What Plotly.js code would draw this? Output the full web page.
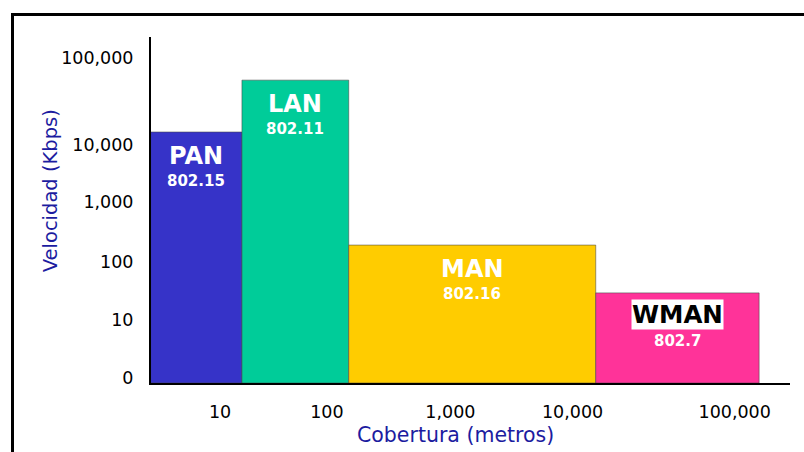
<!DOCTYPE html>
<html>
<head>
<meta charset="utf-8">
<script src="https://cdn.plot.ly/plotly-3.0.1.min.js"></script>
<style>
  html, body { margin: 0; padding: 0; background: #ffffff; }
  #wrap { position: relative; width: 804px; height: 452px; overflow: hidden; }
  #chart { width: 804px; height: 452px; }
  #frame { position: absolute; left: 11px; top: 13px; width: 800px; height: 460px;
           border-top: 3px solid #000; border-left: 3px solid #000; pointer-events: none; }
</style>
</head>
<body>
<div id="wrap">
  <div id="chart"></div>
  <div id="frame"></div>
</div>
<script>
// Network types (schematic chart: axes are "decade" positions, not true log scale)
const networks   = ["PAN", "LAN", "MAN", "WMAN"];
const standards  = ["802.15", "802.11", "802.16", "802.7"];
const barColors  = ["#3633c8", "#00cc99", "#ffcc00", "#ff3399"];

// Coverage extent of each block (schematic decade positions on the x axis)
const coverageStart = [0.46, 1.17, 2.00, 3.92];
const coverageEnd   = [1.17, 2.00, 3.92, 5.19];

// Speed reached by each block (schematic decade positions on the y axis)
const speedLevel = [4.22, 5.11, 2.28, 1.46];

// Axis ticks
const yTickPos    = [0, 1, 2, 3.02, 4, 5.5];
const yTickLabels = ["0", "10", "100", "1,000", "10,000", "100,000"];
const xTickPos    = [1, 1.83, 2.79, 3.74, 5];
const xTickLabels = ["10", "100", "1,000", "10,000", "100,000"];

const xTitle = "Cobertura (metros)";
const yTitle = "Velocidad (Kbps)";

const yMin = -0.086, yMax = 5.85;
const xMin = 0.463, xMax = 5.43;

const FONT = "DejaVu Sans, Verdana, sans-serif";
const TITLE_COLOR = "#1c1ca0";

const xCenter = coverageStart.map((s, i) => (s + coverageEnd[i]) / 2);
const widths  = coverageStart.map((s, i) => coverageEnd[i] - s);

const trace = {
  type: "bar",
  x: xCenter,
  y: speedLevel.map(v => v - yMin),
  base: speedLevel.map(() => yMin),
  width: widths,
  marker: { color: barColors, line: { color: "rgba(70,70,70,0.55)", width: 1 } },
  hoverinfo: "skip",
  showlegend: false
};

const annotations = [];
networks.forEach((n, i) => {
  const isW = n === "WMAN";
  annotations.push({
    x: xCenter[i], y: speedLevel[i], xref: "x", yref: "y",
    text: "<b>" + n + "</b>", showarrow: false,
    yanchor: "middle", yshift: isW ? -22 : -24,
    font: { family: FONT, size: isW ? 24.5 : 24, color: isW ? "#000000" : "#ffffff" },
    bgcolor: isW ? "#ffffff" : "rgba(0,0,0,0)",
    borderpad: 0
  });
  annotations.push({
    x: xCenter[i], y: speedLevel[i], xref: "x", yref: "y",
    text: "<b>" + standards[i] + "</b>", showarrow: false,
    yanchor: "middle", yshift: isW ? -48 : -49,
    font: { family: FONT, size: 15, color: "#ffffff" }
  });
});

// axis titles placed as annotations to match the reference's offsets
annotations.push({
  xref: "paper", yref: "paper", x: 0.476, y: -0.151,
  xanchor: "center", yanchor: "middle", showarrow: false,
  text: xTitle, font: { family: FONT, size: 20.5, color: TITLE_COLOR }
});
annotations.push({
  xref: "paper", yref: "paper", x: -0.156, y: 0.555,
  xanchor: "center", yanchor: "middle", showarrow: false, textangle: -90,
  text: yTitle, font: { family: FONT, size: 19.5, color: TITLE_COLOR }
});

const layout = {
  width: 804, height: 452,
  margin: { l: 151, r: 14, t: 37, b: 69 },
  paper_bgcolor: "#ffffff", plot_bgcolor: "#ffffff",
  bargap: 0,
  xaxis: {
    range: [xMin, xMax], tickmode: "array", tickvals: xTickPos, ticktext: xTickLabels,
    showgrid: false, zeroline: false, showline: true, linecolor: "#000", linewidth: 2,
    ticks: "", ticklabelstandoff: 12,
    tickfont: { family: FONT, size: 17.5, color: "#000" },
    fixedrange: true
  },
  yaxis: {
    range: [yMin, yMax], tickmode: "array", tickvals: yTickPos, ticktext: yTickLabels,
    showgrid: false, zeroline: false, showline: true, linecolor: "#000", linewidth: 2,
    ticks: "", ticklabelstandoff: 12,
    tickfont: { family: FONT, size: 17.5, color: "#000" },
    fixedrange: true
  },
  annotations: annotations
};

Plotly.newPlot("chart", [trace], layout, { displayModeBar: false, staticPlot: true });
</script>
</body>
</html>
